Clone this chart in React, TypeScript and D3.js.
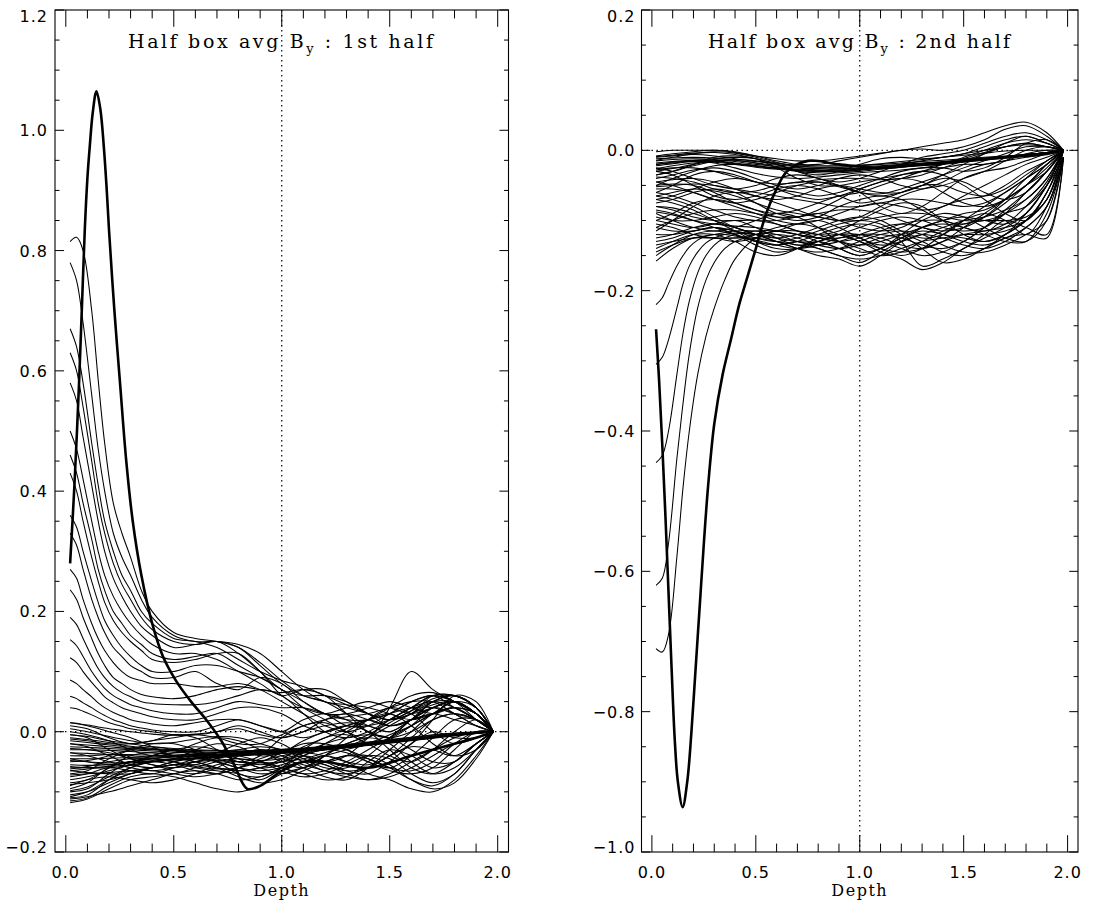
import React from "react";
import * as d3 from "d3";

// ---------- shared depth grids ----------
const DEPTH = [0.02, 0.1, 0.2, 0.3, 0.4, 0.5, 0.6, 0.7, 0.8, 0.9, 1.0, 1.1, 1.2, 1.3, 1.4, 1.5, 1.6, 1.7, 1.8, 1.9, 1.98];
const STEEP_DEPTH = [0.02, 0.05, 0.08, 0.12, 0.15, 0.18, 0.22, 0.26, 0.3, 0.35, 0.4, 0.5, 0.6, 0.7, 0.8, 0.9, 1.0, 1.1, 1.2, 1.3, 1.4, 1.5, 1.6, 1.7, 1.8, 1.9, 1.98];

const X_TICKS = [0, 0.5, 1.0, 1.5, 2.0];
const LEFT_Y_TICKS = [-0.2, 0, 0.2, 0.4, 0.6, 0.8, 1.0, 1.2];
const RIGHT_Y_TICKS = [-1.0, -0.8, -0.6, -0.4, -0.2, 0, 0.2];

// ---------- 1st half ----------
const LEFT_THICK_X = [0.02, 0.04, 0.062, 0.075, 0.088, 0.1, 0.111, 0.125, 0.142, 0.16, 0.176, 0.188, 0.2, 0.225, 0.25, 0.28, 0.31, 0.35, 0.4, 0.45, 0.51, 0.58, 0.65, 0.72, 0.78, 0.84, 0.9, 1.0, 1.1, 1.2, 1.4, 1.6, 1.8, 1.9, 1.98];
const LEFT_THICK_Y = [0.28, 0.41, 0.585, 0.71, 0.835, 0.92, 0.973, 1.03, 1.065, 1.035, 0.973, 0.91, 0.835, 0.7, 0.585, 0.45, 0.35, 0.26, 0.18, 0.125, 0.085, 0.05, 0.02, -0.015, -0.055, -0.095, -0.09, -0.065, -0.05, -0.05, -0.06, -0.04, -0.02, -0.01, 0.0];

// curves on STEEP_DEPTH that start high and decay
const LEFT_DECAY = [
  [0.815, 0.822, 0.8, 0.7, 0.585, 0.48, 0.38, 0.33, 0.29, 0.235, 0.2, 0.165, 0.155, 0.15, 0.14, 0.115, 0.085, 0.06, 0.05, 0.04, 0.03, 0.02, 0.03, 0.045, 0.05, 0.03, 0.0],
  [0.78, 0.75, 0.68, 0.56, 0.47, 0.4, 0.33, 0.29, 0.26, 0.22, 0.19, 0.16, 0.15, 0.15, 0.145, 0.13, 0.1, 0.07, 0.05, 0.045, 0.04, 0.03, 0.02, 0.03, 0.05, 0.03, 0.0],
  [0.67, 0.64, 0.58, 0.48, 0.41, 0.35, 0.3, 0.26, 0.235, 0.2, 0.18, 0.155, 0.15, 0.14, 0.12, 0.1, 0.085, 0.075, 0.06, 0.045, 0.03, 0.02, 0.035, 0.055, 0.06, 0.04, 0.0],
  [0.63, 0.6, 0.54, 0.45, 0.38, 0.33, 0.28, 0.245, 0.22, 0.19, 0.17, 0.15, 0.145, 0.15, 0.14, 0.11, 0.08, 0.06, 0.05, 0.03, 0.01, 0.0, 0.02, 0.04, 0.05, 0.03, 0.0],
  [0.58, 0.55, 0.49, 0.41, 0.35, 0.3, 0.255, 0.225, 0.2, 0.175, 0.16, 0.14, 0.145, 0.15, 0.13, 0.1, 0.07, 0.06, 0.06, 0.05, 0.03, 0.01, 0.02, 0.05, 0.06, 0.04, 0.0],
  [0.5, 0.47, 0.42, 0.35, 0.3, 0.26, 0.225, 0.2, 0.18, 0.16, 0.145, 0.13, 0.13, 0.12, 0.1, 0.08, 0.06, 0.07, 0.07, 0.05, 0.03, 0.02, 0.03, 0.06, 0.06, 0.04, 0.0],
  [0.46, 0.43, 0.38, 0.32, 0.27, 0.235, 0.2, 0.18, 0.16, 0.145, 0.13, 0.12, 0.125, 0.13, 0.11, 0.09, 0.07, 0.05, 0.03, 0.02, 0.02, 0.03, 0.05, 0.06, 0.05, 0.03, 0.0],
  [0.43, 0.4, 0.35, 0.29, 0.25, 0.215, 0.185, 0.165, 0.15, 0.135, 0.12, 0.115, 0.12, 0.13, 0.13, 0.1, 0.06, 0.04, 0.03, 0.04, 0.05, 0.04, 0.03, 0.04, 0.05, 0.03, 0.0],
  [0.36, 0.34, 0.3, 0.25, 0.215, 0.185, 0.16, 0.14, 0.125, 0.11, 0.1, 0.1, 0.11, 0.11, 0.1, 0.09, 0.07, 0.04, 0.02, 0.0, -0.01, 0.04, 0.1, 0.07, 0.05, 0.03, 0.0],
  [0.33, 0.31, 0.27, 0.22, 0.19, 0.165, 0.14, 0.125, 0.11, 0.1, 0.09, 0.09, 0.1, 0.08, 0.07, 0.09, 0.08, 0.05, 0.03, 0.03, 0.04, 0.05, 0.04, 0.03, 0.04, 0.03, 0.0],
  [0.27, 0.255, 0.22, 0.18, 0.155, 0.135, 0.115, 0.1, 0.09, 0.085, 0.08, 0.08, 0.075, 0.075, 0.08, 0.07, 0.05, 0.03, 0.01, 0.0, 0.01, 0.03, 0.05, 0.06, 0.04, 0.02, 0.0],
  [0.236, 0.22, 0.19, 0.155, 0.13, 0.11, 0.09, 0.08, 0.07, 0.062, 0.058, 0.055, 0.06, 0.07, 0.075, 0.07, 0.065, 0.07, 0.06, 0.03, 0.0, -0.01, 0.01, 0.04, 0.05, 0.03, 0.0],
  [0.19, 0.178, 0.155, 0.125, 0.105, 0.09, 0.075, 0.065, 0.058, 0.05, 0.047, 0.045, 0.045, 0.05, 0.06, 0.07, 0.06, 0.03, 0.0, -0.01, 0.0, 0.02, 0.04, 0.06, 0.06, 0.04, 0.0],
  [0.153, 0.143, 0.125, 0.1, 0.085, 0.072, 0.06, 0.052, 0.045, 0.04, 0.035, 0.03, 0.03, 0.04, 0.05, 0.045, 0.04, 0.04, 0.03, 0.01, 0.01, 0.02, 0.04, 0.05, 0.04, 0.02, 0.0],
  [0.123, 0.115, 0.1, 0.082, 0.07, 0.058, 0.048, 0.04, 0.035, 0.03, 0.025, 0.02, 0.02, 0.03, 0.04, 0.04, 0.03, 0.01, 0.0, 0.01, 0.02, 0.03, 0.04, 0.04, 0.03, 0.02, 0.0],
  [0.086, 0.08, 0.07, 0.058, 0.048, 0.04, 0.032, 0.026, 0.02, 0.016, 0.013, 0.01, 0.015, 0.02, 0.02, 0.01, 0.0, -0.01, 0.0, 0.01, 0.02, 0.01, 0.02, 0.03, 0.04, 0.02, 0.0],
  [0.059, 0.055, 0.048, 0.04, 0.033, 0.027, 0.02, 0.015, 0.01, 0.006, 0.003, 0.0, 0.0, 0.01, 0.02, 0.01, 0.0, 0.02, 0.03, 0.02, 0.0, -0.01, 0.0, 0.02, 0.03, 0.02, 0.0],
  [0.04, 0.038, 0.034, 0.028, 0.023, 0.018, 0.013, 0.009, 0.005, 0.002, 0.0, -0.005, -0.005, 0.0, 0.01, 0.0, -0.01, 0.0, 0.02, 0.03, 0.02, 0.01, 0.02, 0.03, 0.02, 0.01, 0.0],
  [0.015, 0.014, 0.012, 0.01, 0.008, 0.006, 0.004, 0.002, 0.0, -0.002, -0.004, -0.006, -0.004, 0.0, 0.005, -0.005, -0.01, 0.0, 0.01, 0.015, 0.01, 0.0, 0.02, 0.04, 0.03, 0.01, 0.0],
];

// curves on DEPTH that stay in the band around zero
const LEFT_BAND = [
  [-0.115, -0.11, -0.09, -0.075, -0.07, -0.075, -0.085, -0.095, -0.1, -0.09, -0.07, -0.06, -0.05, -0.04, -0.045, -0.06, -0.08, -0.09, -0.07, -0.03, 0.0],
  [-0.11, -0.105, -0.08, -0.06, -0.05, -0.055, -0.065, -0.07, -0.06, -0.05, -0.06, -0.07, -0.08, -0.075, -0.05, -0.03, -0.04, -0.06, -0.05, -0.02, 0.0],
  [-0.105, -0.1, -0.085, -0.07, -0.06, -0.05, -0.045, -0.05, -0.06, -0.07, -0.065, -0.05, -0.04, -0.05, -0.07, -0.08, -0.095, -0.1, -0.08, -0.04, 0.0],
  [-0.1, -0.095, -0.07, -0.05, -0.045, -0.05, -0.06, -0.065, -0.07, -0.08, -0.06, -0.03, -0.01, -0.005, -0.02, -0.04, -0.05, -0.03, 0.0, 0.02, 0.0],
  [-0.095, -0.085, -0.06, -0.05, -0.055, -0.065, -0.07, -0.06, -0.04, -0.03, -0.04, -0.06, -0.075, -0.08, -0.06, -0.03, 0.0, 0.03, 0.04, 0.03, 0.0],
  [-0.09, -0.08, -0.075, -0.08, -0.085, -0.08, -0.07, -0.055, -0.05, -0.06, -0.07, -0.06, -0.04, -0.02, -0.01, -0.02, -0.05, -0.07, -0.06, -0.03, 0.0],
  [-0.08, -0.075, -0.065, -0.055, -0.04, -0.03, -0.035, -0.05, -0.07, -0.075, -0.06, -0.04, -0.03, -0.035, -0.05, -0.06, -0.04, -0.01, 0.02, 0.02, 0.0],
  [-0.075, -0.07, -0.06, -0.065, -0.07, -0.06, -0.05, -0.045, -0.05, -0.055, -0.05, -0.04, -0.05, -0.065, -0.07, -0.05, -0.02, 0.0, -0.01, -0.01, 0.0],
  [-0.06, -0.06, -0.058, -0.055, -0.05, -0.047, -0.045, -0.043, -0.04, -0.038, -0.035, -0.032, -0.03, -0.026, -0.022, -0.018, -0.014, -0.01, -0.006, -0.003, 0.0],
  [-0.055, -0.056, -0.055, -0.052, -0.048, -0.045, -0.043, -0.041, -0.039, -0.037, -0.034, -0.031, -0.028, -0.025, -0.021, -0.017, -0.013, -0.009, -0.005, -0.002, 0.0],
  [-0.065, -0.062, -0.057, -0.05, -0.045, -0.042, -0.04, -0.039, -0.038, -0.036, -0.033, -0.03, -0.027, -0.024, -0.02, -0.016, -0.012, -0.008, -0.005, -0.002, 0.0],
  [-0.058, -0.06, -0.06, -0.056, -0.05, -0.046, -0.044, -0.042, -0.04, -0.038, -0.036, -0.033, -0.03, -0.027, -0.023, -0.019, -0.015, -0.011, -0.007, -0.003, 0.0],
  [-0.02, -0.022, -0.025, -0.028, -0.03, -0.032, -0.034, -0.035, -0.035, -0.034, -0.032, -0.03, -0.027, -0.024, -0.02, -0.016, -0.012, -0.008, -0.005, -0.002, 0.0],
  [-0.015, -0.018, -0.022, -0.026, -0.029, -0.031, -0.033, -0.034, -0.034, -0.033, -0.031, -0.029, -0.026, -0.023, -0.019, -0.015, -0.011, -0.007, -0.004, -0.001, 0.0],
  [-0.025, -0.026, -0.028, -0.03, -0.032, -0.034, -0.036, -0.037, -0.036, -0.035, -0.033, -0.031, -0.028, -0.025, -0.021, -0.017, -0.013, -0.009, -0.005, -0.002, 0.0],
  [-0.03, -0.03, -0.031, -0.033, -0.035, -0.037, -0.038, -0.038, -0.037, -0.036, -0.034, -0.032, -0.029, -0.026, -0.022, -0.018, -0.014, -0.01, -0.006, -0.003, 0.0],
  [-0.01, -0.013, -0.018, -0.024, -0.028, -0.03, -0.031, -0.032, -0.033, -0.032, -0.03, -0.028, -0.025, -0.022, -0.018, -0.014, -0.01, -0.006, -0.003, -0.001, 0.0],
  [-0.04, -0.04, -0.038, -0.038, -0.039, -0.04, -0.04, -0.04, -0.039, -0.037, -0.035, -0.032, -0.029, -0.026, -0.022, -0.018, -0.014, -0.01, -0.006, -0.003, 0.0],
  [0.01, 0.005, -0.01, -0.02, -0.015, -0.005, -0.01, -0.03, -0.05, -0.04, -0.01, 0.01, 0.015, 0.0, -0.02, -0.01, 0.02, 0.04, 0.05, 0.03, 0.0],
  [0.015, 0.01, 0.0, -0.01, -0.025, -0.04, -0.045, -0.035, -0.02, -0.01, -0.02, -0.04, -0.05, -0.04, -0.01, 0.02, 0.04, 0.06, 0.05, 0.02, 0.0],
  [0.0, -0.005, -0.015, -0.03, -0.04, -0.035, -0.02, -0.01, -0.015, -0.03, -0.05, -0.06, -0.04, -0.01, 0.02, 0.04, 0.03, 0.0, -0.02, -0.01, 0.0],
  [-0.005, -0.01, -0.03, -0.045, -0.05, -0.045, -0.03, -0.02, -0.025, -0.04, -0.035, -0.015, 0.0, 0.01, 0.0, -0.03, -0.06, -0.07, -0.05, -0.02, 0.0],
  [-0.035, -0.04, -0.05, -0.06, -0.065, -0.06, -0.05, -0.04, -0.03, -0.025, -0.03, -0.045, -0.06, -0.06, -0.04, -0.01, 0.02, 0.05, 0.06, 0.04, 0.0],
  [-0.045, -0.05, -0.055, -0.05, -0.04, -0.03, -0.025, -0.03, -0.045, -0.06, -0.055, -0.04, -0.02, 0.0, 0.02, 0.03, 0.01, -0.02, -0.04, -0.03, 0.0],
  [-0.07, -0.065, -0.045, -0.03, -0.02, -0.02, -0.03, -0.045, -0.055, -0.05, -0.035, -0.02, -0.02, -0.03, -0.05, -0.065, -0.07, -0.06, -0.03, 0.0, 0.0],
  [-0.085, -0.08, -0.06, -0.04, -0.035, -0.04, -0.05, -0.06, -0.065, -0.06, -0.045, -0.025, -0.01, 0.005, 0.02, 0.04, 0.06, 0.065, 0.05, 0.03, 0.0],
  [-0.05, -0.048, -0.04, -0.03, -0.025, -0.03, -0.04, -0.05, -0.06, -0.065, -0.06, -0.05, -0.04, -0.03, -0.02, -0.005, 0.01, 0.03, 0.04, 0.03, 0.0],
  [-0.02, -0.025, -0.04, -0.055, -0.06, -0.055, -0.045, -0.035, -0.03, -0.035, -0.045, -0.055, -0.065, -0.075, -0.08, -0.075, -0.06, -0.04, -0.02, -0.01, 0.0],
  [-0.012, -0.015, -0.02, -0.02, -0.015, -0.01, -0.005, -0.01, -0.02, -0.02, -0.005, 0.01, 0.02, 0.025, 0.03, 0.04, 0.05, 0.05, 0.03, 0.01, 0.0],
  [-0.065, -0.068, -0.07, -0.07, -0.06, -0.05, -0.04, -0.035, -0.04, -0.05, -0.065, -0.075, -0.07, -0.055, -0.04, -0.045, -0.07, -0.085, -0.07, -0.03, 0.0],
  [-0.118, -0.112, -0.095, -0.08, -0.075, -0.07, -0.06, -0.05, -0.045, -0.05, -0.06, -0.07, -0.065, -0.05, -0.03, -0.01, 0.01, 0.03, 0.05, 0.04, 0.0],
  [-0.112, -0.108, -0.1, -0.09, -0.08, -0.07, -0.065, -0.07, -0.08, -0.075, -0.06, -0.05, -0.055, -0.07, -0.08, -0.07, -0.05, -0.03, -0.01, 0.0, 0.0],
  [-0.108, -0.1, -0.08, -0.065, -0.065, -0.07, -0.075, -0.07, -0.06, -0.045, -0.035, -0.04, -0.055, -0.065, -0.06, -0.04, -0.02, 0.02, 0.06, 0.05, 0.0],
  [-0.098, -0.092, -0.075, -0.06, -0.05, -0.045, -0.05, -0.06, -0.075, -0.085, -0.08, -0.065, -0.05, -0.04, -0.04, -0.055, -0.08, -0.095, -0.085, -0.045, 0.0],
  [-0.088, -0.085, -0.08, -0.07, -0.06, -0.055, -0.055, -0.06, -0.065, -0.06, -0.05, -0.035, -0.025, -0.03, -0.045, -0.06, -0.065, -0.05, -0.02, 0.0, 0.0],
  [-0.072, -0.07, -0.068, -0.065, -0.06, -0.055, -0.05, -0.048, -0.05, -0.052, -0.05, -0.045, -0.035, -0.025, -0.01, 0.01, 0.03, 0.05, 0.06, 0.04, 0.0],
  [-0.062, -0.058, -0.05, -0.045, -0.045, -0.05, -0.058, -0.062, -0.06, -0.05, -0.04, -0.035, -0.04, -0.05, -0.055, -0.04, -0.01, 0.02, 0.03, 0.02, 0.0],
  [-0.048, -0.05, -0.052, -0.05, -0.045, -0.04, -0.038, -0.04, -0.045, -0.048, -0.045, -0.035, -0.02, -0.01, -0.005, -0.01, -0.03, -0.05, -0.05, -0.02, 0.0],
  [-0.035, -0.036, -0.038, -0.04, -0.042, -0.042, -0.041, -0.04, -0.038, -0.036, -0.034, -0.031, -0.028, -0.025, -0.021, -0.017, -0.013, -0.009, -0.005, -0.002, 0.0],
  [-0.045, -0.045, -0.044, -0.043, -0.042, -0.041, -0.04, -0.039, -0.038, -0.036, -0.034, -0.031, -0.028, -0.025, -0.021, -0.017, -0.013, -0.009, -0.005, -0.002, 0.0],
  [-0.005, -0.008, -0.015, -0.02, -0.025, -0.028, -0.03, -0.031, -0.032, -0.031, -0.029, -0.027, -0.024, -0.021, -0.017, -0.013, -0.009, -0.005, -0.002, 0.0, 0.0],
  [0.005, 0.0, -0.008, -0.015, -0.02, -0.018, -0.012, -0.008, -0.01, -0.02, -0.03, -0.035, -0.03, -0.02, -0.005, 0.015, 0.035, 0.05, 0.05, 0.03, 0.0],
  [-0.028, -0.03, -0.035, -0.045, -0.055, -0.06, -0.055, -0.045, -0.035, -0.03, -0.035, -0.05, -0.065, -0.07, -0.06, -0.04, -0.025, -0.03, -0.04, -0.02, 0.0],
];

// ---------- 2nd half ----------
const RIGHT_THICK_X = [0.02, 0.035, 0.05, 0.065, 0.08, 0.095, 0.11, 0.125, 0.148, 0.17, 0.19, 0.21, 0.23, 0.25, 0.27, 0.3, 0.34, 0.38, 0.42, 0.46, 0.5, 0.55, 0.6, 0.65, 0.75, 0.9, 1.1, 1.3, 1.5, 1.7, 1.9, 1.98];
const RIGHT_THICK_Y = [-0.255, -0.33, -0.42, -0.52, -0.63, -0.74, -0.84, -0.9, -0.936, -0.9, -0.83, -0.74, -0.65, -0.56, -0.48, -0.39, -0.32, -0.27, -0.22, -0.18, -0.14, -0.09, -0.055, -0.03, -0.015, -0.02, -0.025, -0.02, -0.015, -0.01, -0.005, 0.0];

// curves on STEEP_DEPTH that start deep and recover
const RIGHT_RECOVERY = [
  [-0.22, -0.21, -0.19, -0.165, -0.15, -0.138, -0.128, -0.122, -0.12, -0.12, -0.122, -0.128, -0.135, -0.14, -0.135, -0.125, -0.12, -0.125, -0.135, -0.14, -0.13, -0.11, -0.09, -0.07, -0.05, -0.03, 0.0],
  [-0.305, -0.295, -0.27, -0.225, -0.19, -0.165, -0.145, -0.132, -0.125, -0.12, -0.118, -0.12, -0.125, -0.13, -0.13, -0.12, -0.11, -0.1, -0.095, -0.1, -0.11, -0.115, -0.11, -0.09, -0.06, -0.03, 0.0],
  [-0.445, -0.435, -0.4, -0.32, -0.26, -0.215, -0.175, -0.15, -0.135, -0.125, -0.12, -0.115, -0.115, -0.12, -0.125, -0.13, -0.135, -0.13, -0.12, -0.11, -0.1, -0.095, -0.1, -0.105, -0.09, -0.05, 0.0],
  [-0.62, -0.61, -0.56, -0.44, -0.36, -0.29, -0.225, -0.185, -0.16, -0.14, -0.13, -0.12, -0.11, -0.105, -0.11, -0.12, -0.13, -0.14, -0.145, -0.14, -0.13, -0.12, -0.115, -0.11, -0.1, -0.07, -0.01],
  [-0.71, -0.715, -0.69, -0.58, -0.48, -0.4, -0.32, -0.265, -0.225, -0.185, -0.155, -0.125, -0.115, -0.12, -0.13, -0.14, -0.15, -0.14, -0.125, -0.115, -0.12, -0.13, -0.135, -0.125, -0.11, -0.08, -0.01],
];

// curves on DEPTH in the band below zero
const RIGHT_BAND = [
  [-0.008, -0.005, -0.002, 0.0, -0.002, -0.008, -0.015, -0.02, -0.02, -0.015, -0.01, -0.005, 0.0, 0.002, 0.0, 0.005, 0.015, 0.03, 0.035, 0.02, 0.0],
  [-0.01, -0.008, -0.006, -0.008, -0.012, -0.016, -0.019, -0.021, -0.022, -0.022, -0.021, -0.02, -0.018, -0.016, -0.014, -0.012, -0.01, -0.008, -0.006, -0.003, 0.0],
  [-0.012, -0.011, -0.01, -0.011, -0.014, -0.018, -0.021, -0.023, -0.024, -0.024, -0.023, -0.022, -0.02, -0.018, -0.016, -0.013, -0.011, -0.009, -0.006, -0.003, 0.0],
  [-0.015, -0.013, -0.012, -0.013, -0.016, -0.02, -0.023, -0.025, -0.026, -0.026, -0.025, -0.023, -0.021, -0.019, -0.017, -0.014, -0.012, -0.009, -0.006, -0.003, 0.0],
  [-0.018, -0.016, -0.014, -0.015, -0.018, -0.022, -0.025, -0.027, -0.028, -0.027, -0.026, -0.024, -0.022, -0.02, -0.018, -0.015, -0.012, -0.01, -0.007, -0.004, 0.0],
  [-0.022, -0.019, -0.016, -0.016, -0.019, -0.023, -0.026, -0.028, -0.029, -0.028, -0.027, -0.025, -0.023, -0.021, -0.019, -0.016, -0.013, -0.01, -0.007, -0.004, 0.0],
  [-0.026, -0.022, -0.018, -0.017, -0.02, -0.024, -0.027, -0.029, -0.03, -0.029, -0.028, -0.026, -0.024, -0.022, -0.02, -0.017, -0.014, -0.011, -0.008, -0.004, 0.0],
  [-0.03, -0.026, -0.02, -0.015, -0.013, -0.015, -0.02, -0.03, -0.04, -0.045, -0.04, -0.03, -0.02, -0.01, -0.005, 0.0, 0.01, 0.02, 0.025, 0.015, 0.0],
  [-0.035, -0.03, -0.02, -0.01, -0.008, -0.012, -0.025, -0.04, -0.05, -0.05, -0.045, -0.04, -0.035, -0.03, -0.02, -0.01, 0.0, 0.01, 0.015, 0.01, 0.0],
  [-0.04, -0.035, -0.028, -0.025, -0.03, -0.04, -0.05, -0.055, -0.05, -0.04, -0.035, -0.04, -0.05, -0.055, -0.045, -0.03, -0.02, -0.015, -0.01, -0.005, 0.0],
  [-0.045, -0.042, -0.04, -0.045, -0.055, -0.065, -0.07, -0.065, -0.055, -0.05, -0.055, -0.06, -0.06, -0.05, -0.035, -0.02, -0.005, 0.01, 0.02, 0.01, 0.0],
  [-0.05, -0.048, -0.05, -0.06, -0.075, -0.085, -0.09, -0.085, -0.075, -0.065, -0.06, -0.05, -0.04, -0.03, -0.025, -0.02, -0.02, -0.015, -0.005, 0.0, 0.0],
  [-0.055, -0.055, -0.06, -0.07, -0.08, -0.09, -0.1, -0.105, -0.1, -0.09, -0.08, -0.075, -0.08, -0.085, -0.08, -0.065, -0.05, -0.035, -0.02, -0.01, 0.0],
  [-0.06, -0.065, -0.075, -0.085, -0.095, -0.1, -0.1, -0.095, -0.09, -0.1, -0.11, -0.115, -0.11, -0.095, -0.08, -0.07, -0.065, -0.05, -0.03, -0.015, 0.0],
  [-0.065, -0.07, -0.08, -0.095, -0.11, -0.12, -0.125, -0.12, -0.11, -0.1, -0.095, -0.1, -0.115, -0.125, -0.12, -0.1, -0.08, -0.06, -0.04, -0.02, 0.0],
  [-0.07, -0.075, -0.085, -0.1, -0.115, -0.13, -0.14, -0.14, -0.13, -0.12, -0.12, -0.13, -0.14, -0.15, -0.145, -0.13, -0.11, -0.09, -0.08, -0.05, -0.01],
  [-0.08, -0.082, -0.09, -0.1, -0.11, -0.12, -0.13, -0.14, -0.15, -0.155, -0.165, -0.15, -0.13, -0.11, -0.1, -0.09, -0.085, -0.07, -0.05, -0.02, 0.0],
  [-0.085, -0.09, -0.1, -0.11, -0.12, -0.13, -0.135, -0.13, -0.12, -0.11, -0.105, -0.11, -0.13, -0.165, -0.155, -0.14, -0.12, -0.1, -0.11, -0.12, -0.01],
  [-0.09, -0.1, -0.11, -0.115, -0.11, -0.1, -0.09, -0.095, -0.11, -0.13, -0.145, -0.14, -0.12, -0.1, -0.09, -0.095, -0.11, -0.125, -0.13, -0.1, -0.01],
  [-0.095, -0.1, -0.1, -0.095, -0.09, -0.095, -0.105, -0.115, -0.12, -0.115, -0.1, -0.085, -0.075, -0.08, -0.1, -0.12, -0.13, -0.12, -0.09, -0.05, 0.0],
  [-0.1, -0.105, -0.11, -0.105, -0.1, -0.11, -0.125, -0.135, -0.13, -0.12, -0.125, -0.14, -0.15, -0.14, -0.12, -0.1, -0.09, -0.1, -0.12, -0.08, -0.01],
  [-0.11, -0.115, -0.115, -0.11, -0.115, -0.125, -0.13, -0.125, -0.115, -0.105, -0.1, -0.105, -0.12, -0.14, -0.16, -0.155, -0.14, -0.12, -0.1, -0.06, 0.0],
  [-0.12, -0.12, -0.115, -0.11, -0.12, -0.135, -0.145, -0.14, -0.13, -0.14, -0.15, -0.14, -0.125, -0.11, -0.105, -0.11, -0.12, -0.13, -0.13, -0.09, -0.01],
  [-0.13, -0.125, -0.115, -0.11, -0.115, -0.12, -0.115, -0.105, -0.1, -0.11, -0.125, -0.135, -0.13, -0.12, -0.11, -0.1, -0.095, -0.085, -0.07, -0.04, 0.0],
  [-0.14, -0.13, -0.12, -0.12, -0.13, -0.145, -0.15, -0.14, -0.125, -0.12, -0.13, -0.145, -0.155, -0.17, -0.16, -0.14, -0.125, -0.11, -0.09, -0.05, 0.0],
  [-0.15, -0.135, -0.12, -0.115, -0.12, -0.13, -0.135, -0.13, -0.14, -0.15, -0.16, -0.145, -0.13, -0.12, -0.125, -0.135, -0.14, -0.13, -0.11, -0.08, -0.01],
  [-0.158, -0.14, -0.125, -0.125, -0.13, -0.125, -0.12, -0.125, -0.135, -0.14, -0.135, -0.125, -0.12, -0.13, -0.145, -0.15, -0.14, -0.125, -0.12, -0.125, -0.01],
  [-0.025, -0.03, -0.04, -0.05, -0.055, -0.05, -0.04, -0.035, -0.04, -0.05, -0.06, -0.065, -0.06, -0.05, -0.04, -0.045, -0.06, -0.07, -0.06, -0.03, 0.0],
  [-0.03, -0.035, -0.05, -0.065, -0.07, -0.065, -0.055, -0.05, -0.055, -0.065, -0.075, -0.07, -0.06, -0.05, -0.05, -0.06, -0.065, -0.055, -0.035, -0.015, 0.0],
  [-0.045, -0.05, -0.06, -0.07, -0.075, -0.07, -0.06, -0.05, -0.045, -0.05, -0.06, -0.08, -0.09, -0.08, -0.06, -0.04, -0.03, -0.025, -0.015, -0.005, 0.0],
  [-0.07, -0.065, -0.055, -0.045, -0.04, -0.045, -0.055, -0.065, -0.07, -0.065, -0.055, -0.045, -0.04, -0.045, -0.06, -0.075, -0.08, -0.07, -0.05, -0.025, 0.0],
  [-0.075, -0.07, -0.06, -0.055, -0.06, -0.075, -0.09, -0.095, -0.085, -0.07, -0.055, -0.045, -0.035, -0.03, -0.035, -0.05, -0.07, -0.09, -0.1, -0.06, -0.01],
  [-0.1, -0.09, -0.075, -0.07, -0.075, -0.085, -0.095, -0.1, -0.095, -0.08, -0.07, -0.065, -0.07, -0.085, -0.1, -0.105, -0.095, -0.075, -0.05, -0.02, 0.0],
  [-0.115, -0.1, -0.08, -0.065, -0.06, -0.065, -0.075, -0.085, -0.095, -0.1, -0.095, -0.08, -0.065, -0.055, -0.05, -0.04, -0.03, -0.015, 0.0, 0.005, 0.0],
  [-0.02, -0.018, -0.015, -0.012, -0.01, -0.012, -0.02, -0.03, -0.035, -0.03, -0.02, -0.012, -0.01, -0.012, -0.01, -0.005, 0.005, 0.015, 0.02, 0.01, 0.0],
  [-0.035, -0.03, -0.022, -0.016, -0.014, -0.018, -0.024, -0.028, -0.03, -0.03, -0.028, -0.025, -0.022, -0.02, -0.018, -0.015, -0.012, -0.009, -0.006, -0.003, 0.0],
  [-0.05, -0.04, -0.03, -0.022, -0.02, -0.022, -0.026, -0.03, -0.032, -0.032, -0.03, -0.027, -0.024, -0.021, -0.018, -0.015, -0.012, -0.009, -0.006, -0.003, 0.0],
  [-0.06, -0.05, -0.035, -0.03, -0.035, -0.045, -0.055, -0.06, -0.065, -0.06, -0.05, -0.04, -0.03, -0.025, -0.025, -0.03, -0.025, -0.01, 0.01, 0.015, 0.0],
  [-0.009, -0.007, -0.004, -0.003, -0.006, -0.012, -0.018, -0.022, -0.024, -0.024, -0.022, -0.019, -0.016, -0.013, -0.01, -0.007, -0.004, -0.001, 0.0, 0.0, 0.0],
  [-0.014, -0.01, -0.005, -0.002, -0.004, -0.01, -0.017, -0.024, -0.028, -0.03, -0.028, -0.025, -0.02, -0.015, -0.01, -0.005, 0.0, 0.005, 0.008, 0.005, 0.0],
  [-0.02, -0.017, -0.015, -0.018, -0.025, -0.033, -0.038, -0.04, -0.038, -0.035, -0.032, -0.03, -0.028, -0.025, -0.02, -0.012, -0.003, 0.005, 0.01, 0.005, 0.0],
  [-0.028, -0.025, -0.025, -0.03, -0.038, -0.045, -0.048, -0.046, -0.042, -0.04, -0.04, -0.042, -0.04, -0.035, -0.025, -0.015, -0.005, 0.005, 0.01, 0.005, 0.0],
  [-0.038, -0.04, -0.045, -0.055, -0.06, -0.058, -0.05, -0.045, -0.045, -0.052, -0.06, -0.062, -0.055, -0.045, -0.035, -0.025, -0.015, -0.005, 0.005, 0.005, 0.0],
  [-0.052, -0.05, -0.048, -0.05, -0.055, -0.06, -0.065, -0.07, -0.075, -0.08, -0.08, -0.075, -0.07, -0.07, -0.075, -0.08, -0.075, -0.06, -0.04, -0.02, 0.0],
  [-0.065, -0.06, -0.055, -0.058, -0.065, -0.075, -0.085, -0.09, -0.095, -0.1, -0.1, -0.095, -0.09, -0.09, -0.095, -0.1, -0.1, -0.09, -0.07, -0.04, 0.0],
  [-0.08, -0.085, -0.095, -0.1, -0.1, -0.1, -0.105, -0.115, -0.125, -0.13, -0.125, -0.115, -0.105, -0.1, -0.1, -0.11, -0.115, -0.105, -0.08, -0.045, 0.0],
  [-0.088, -0.092, -0.1, -0.105, -0.108, -0.11, -0.115, -0.12, -0.125, -0.125, -0.12, -0.12, -0.125, -0.135, -0.14, -0.13, -0.11, -0.085, -0.06, -0.03, 0.0],
  [-0.105, -0.11, -0.12, -0.125, -0.125, -0.12, -0.115, -0.115, -0.12, -0.13, -0.14, -0.15, -0.145, -0.13, -0.115, -0.105, -0.1, -0.1, -0.095, -0.07, 0.0],
  [-0.125, -0.12, -0.11, -0.105, -0.11, -0.12, -0.13, -0.14, -0.145, -0.14, -0.13, -0.12, -0.115, -0.12, -0.135, -0.145, -0.145, -0.135, -0.12, -0.1, -0.01],
  [-0.135, -0.13, -0.125, -0.125, -0.125, -0.125, -0.13, -0.135, -0.14, -0.15, -0.155, -0.15, -0.14, -0.13, -0.125, -0.12, -0.12, -0.115, -0.1, -0.06, 0.0],
  [-0.145, -0.135, -0.125, -0.12, -0.115, -0.115, -0.12, -0.13, -0.135, -0.13, -0.12, -0.11, -0.105, -0.11, -0.12, -0.125, -0.13, -0.12, -0.1, -0.07, 0.0],
  [-0.11, -0.1, -0.09, -0.085, -0.085, -0.09, -0.095, -0.095, -0.09, -0.085, -0.085, -0.09, -0.1, -0.11, -0.115, -0.11, -0.095, -0.07, -0.04, -0.015, 0.0],
  [-0.002, 0.0, 0.0, 0.0, -0.003, -0.008, -0.012, -0.015, -0.015, -0.012, -0.008, -0.004, 0.0, 0.005, 0.01, 0.015, 0.025, 0.035, 0.04, 0.025, 0.0],
];

// ---------- layout ----------
const W = 1103;
const H = 905;
const TOP = 10;
const BOTTOM = 852;
const X_DOMAIN: [number, number] = [-0.05, 2.05];

type Pt = [number, number];

function zipGrid(xs: number[], ys: number[]): Pt[] {
  return xs.map((x, i) => [x, ys[i]] as Pt);
}

function fmt(v: number): string {
  const s = d3.format(".1f")(Math.abs(v) < 1e-9 ? 0 : v);
  return s.replace("-", "\u2212");
}

interface PanelProps {
  left: number;
  right: number;
  yDomain: [number, number];
  yTicks: number[];
  titleRest: string;
  titleX: number;
  titleLen: number;
  labelGap: number;
  thin: Pt[][];
  thick: Pt[];
}

function Panel(p: PanelProps) {
  const xs = d3.scaleLinear().domain(X_DOMAIN).range([p.left, p.right]);
  const ys = d3.scaleLinear().domain(p.yDomain).range([BOTTOM, TOP]);
  const line = d3
    .line<Pt>()
    .x((d) => xs(d[0]))
    .y((d) => ys(d[1]))
    .curve(d3.curveCatmullRom.alpha(0.5));

  const xMinor = d3.range(0, 2.0001, 0.1);
  const yMinor = d3.range(p.yDomain[0], p.yDomain[1] + 1e-6, 0.05);
  const isMajorX = (v: number) => Math.abs(v / 0.5 - Math.round(v / 0.5)) < 1e-6;
  const isMajorY = (v: number) => Math.abs(v / 0.2 - Math.round(v / 0.2)) < 1e-6;
  const xMajLen = 0.02 * (BOTTOM - TOP);
  const yMajLen = 0.02 * (p.right - p.left);
  const clipId = `clip-${Math.round(p.left)}`;
  const nY = p.yTicks.length;

  return (
    <g>
      <defs>
        <clipPath id={clipId}>
          <rect x={p.left} y={TOP} width={p.right - p.left} height={BOTTOM - TOP} />
        </clipPath>
      </defs>
      {/* reference dotted lines */}
      <line x1={xs(1)} x2={xs(1)} y1={TOP} y2={BOTTOM} stroke="#000" strokeWidth={1.2} strokeDasharray="1.4,3.6" />
      <line x1={p.left} x2={p.right} y1={ys(0)} y2={ys(0)} stroke="#000" strokeWidth={1.2} strokeDasharray="1.4,3.6" />
      <g clipPath={`url(#${clipId})`} fill="none" stroke="#000" strokeLinejoin="round">
        {p.thin.map((s, i) => (
          <path key={i} d={line(s) || ""} strokeWidth={1.05} />
        ))}
        <path d={line(p.thick) || ""} strokeWidth={2.6} />
      </g>
      {/* frame */}
      <rect x={p.left} y={TOP} width={p.right - p.left} height={BOTTOM - TOP} fill="none" stroke="#000" strokeWidth={1.1} />
      {/* x ticks bottom & top */}
      {xMinor.map((v, i) => {
        const len = isMajorX(v) ? xMajLen : xMajLen / 2;
        const x = xs(v);
        return (
          <g key={`xt${i}`} stroke="#000" strokeWidth={1}>
            <line x1={x} x2={x} y1={BOTTOM} y2={BOTTOM - len} />
            <line x1={x} x2={x} y1={TOP} y2={TOP + len} />
          </g>
        );
      })}
      {/* y ticks left & right */}
      {yMinor.map((v, i) => {
        const len = isMajorY(v) ? yMajLen : yMajLen / 2;
        const y = ys(v);
        return (
          <g key={`yt${i}`} stroke="#000" strokeWidth={1}>
            <line x1={p.left} x2={p.left + len} y1={y} y2={y} />
            <line x1={p.right} x2={p.right - len} y1={y} y2={y} />
          </g>
        );
      })}
      {/* x labels */}
      {X_TICKS.map((v) => (
        <text key={`xl${v}`} x={xs(v)} y={BOTTOM + 26} textAnchor="middle" fontFamily="DejaVu Sans" fontSize={16} letterSpacing={1}>
          {fmt(v)}
        </text>
      ))}
      {/* y labels */}
      {p.yTicks.map((v, i) => {
        const off = i === 0 ? 1 : i === nY - 1 ? 11.5 : 6;
        return (
          <text key={`yl${i}`} x={p.left - p.labelGap} y={ys(v) + off} textAnchor="end" fontFamily="DejaVu Sans" fontSize={16} letterSpacing={1}>
            {fmt(v)}
          </text>
        );
      })}
      {/* title */}
      <text
        x={p.titleX}
        y={47.5}
        fontFamily="DejaVu Serif"
        fontSize={19}
        textLength={p.titleLen}
        lengthAdjust="spacing"
        style={{ whiteSpace: "pre" }}
      >
        <tspan>Half box avg B</tspan>
        <tspan dy={5} fontSize={13}>y</tspan>
        <tspan dy={-5}>{p.titleRest}</tspan>
      </text>
      {/* x axis title */}
      <text x={(p.left + p.right) / 2} y={896} textAnchor="middle" fontFamily="DejaVu Serif" fontSize={16} letterSpacing={1.5}>
        Depth
      </text>
    </g>
  );
}

export default function App() {
  const leftThin: Pt[][] = [
    ...LEFT_BAND.map((r) => zipGrid(DEPTH, r)),
    ...LEFT_DECAY.map((r) => zipGrid(STEEP_DEPTH, r)),
  ];
  const rightThin: Pt[][] = [
    ...RIGHT_BAND.map((r) => zipGrid(DEPTH, r)),
    ...RIGHT_RECOVERY.map((r) => zipGrid(STEEP_DEPTH, r)),
  ];
  return (
    <svg width={W} height={H} style={{ position: "absolute", left: 0, top: 0, background: "#fff" }}>
      <rect x={0} y={0} width={W} height={H} fill="#fff" />
      <Panel
        left={55}
        right={508.5}
        yDomain={[-0.2, 1.2]}
        yTicks={LEFT_Y_TICKS}
        titleRest=" : 1st half"
        titleX={128}
        titleLen={305}
        labelGap={7}
        thin={leftThin}
        thick={zipGrid(LEFT_THICK_X, LEFT_THICK_Y)}
      />
      <Panel
        left={641.5}
        right={1078}
        yDomain={[-1.0, 0.2]}
        yTicks={RIGHT_Y_TICKS}
        titleRest=" : 2nd half"
        titleX={708}
        titleLen={302}
        labelGap={6}
        thin={rightThin}
        thick={zipGrid(RIGHT_THICK_X, RIGHT_THICK_Y)}
      />
    </svg>
  );
}
